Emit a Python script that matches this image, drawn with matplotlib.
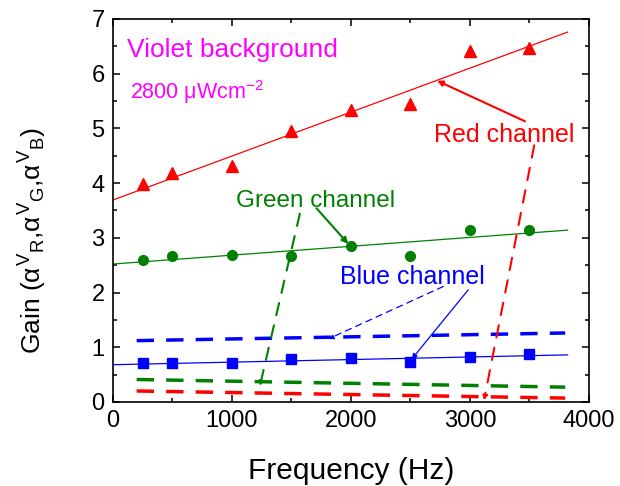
import matplotlib
matplotlib.use('Agg')
import matplotlib.pyplot as plt
from matplotlib.ticker import MultipleLocator

plt.rcParams['font.family'] = ['Liberation Sans', 'DejaVu Sans']
plt.rcParams['mathtext.fontset'] = 'custom'
plt.rcParams['mathtext.rm'] = 'Liberation Sans'
plt.rcParams['mathtext.it'] = 'Liberation Sans'
plt.rcParams['mathtext.bf'] = 'Liberation Sans:bold'

# measured gains
freq = [250, 500, 1000, 1500, 2000, 2500, 3000, 3500]
red = [3.98, 4.19, 4.32, 4.95, 5.34, 5.45, 6.42, 6.46]
green = [2.60, 2.66, 2.69, 2.67, 2.85, 2.67, 3.14, 3.14]
blue = [0.71, 0.71, 0.71, 0.79, 0.81, 0.73, 0.83, 0.87]

# linear fits (end points)
fit_x = [0, 3820]
red_fit = [3.69, 6.76]
green_fit = [2.52, 3.14]
blue_fit = [0.68, 0.86]

# dashed reference lines
ref_x = [200, 3800]
blue_ref = [1.12, 1.26]
green_ref = [0.41, 0.27]
red_ref = [0.20, 0.07]

fig = plt.figure(figsize=(6.2, 4.86), dpi=100)
ax = fig.add_axes([0.182, 0.173, 0.768, 0.788])

ax.plot(fit_x, red_fit, color='red', lw=0.9)
ax.plot(fit_x, green_fit, color='green', lw=0.9)
ax.plot(fit_x, blue_fit, color='blue', lw=0.9)

ax.plot(freq, red, '^', color='red', ms=8, mec='red')
ax.plot(freq, green, 'o', color='green', ms=7)
ax.plot(freq, blue, 's', color='blue', ms=6.5)

ax.plot(ref_x, blue_ref, color='blue', lw=2.5, ls=(0, (5, 3.5)))
ax.plot(ref_x, green_ref, color='green', lw=2.5, ls=(0, (5, 3.5)))
ax.plot(ref_x, red_ref, color='red', lw=2.5, ls=(0, (5, 3.5)))

# labels and arrows
ax.text(120, 6.43, 'Violet background', color='magenta', fontsize=19, va='center')
ax.text(145, 5.66, '2800 μWcm$^{-2}$', color='magenta', fontsize=15.5, va='center')

ax.text(3285, 4.87, 'Red channel', color='red', fontsize=18, ha='center', va='center')
ax.annotate('', xy=(2725, 5.87), xytext=(3462, 5.13),
            arrowprops=dict(arrowstyle='-|>', color='red', lw=1.5,
                            mutation_scale=8, shrinkA=0, shrinkB=0))
ax.annotate('', xy=(3118, 0.03), xytext=(3540, 4.69),
            arrowprops=dict(arrowstyle='-|>', color='red', lw=1.5, ls=(0, (6, 5)),
                            mutation_scale=6, shrinkA=0, shrinkB=0))

ax.text(1700, 3.68, 'Green channel', color='green', fontsize=17.5, ha='center', va='center')
ax.annotate('', xy=(1977, 2.89), xytext=(1711, 3.54),
            arrowprops=dict(arrowstyle='-|>', color='green', lw=1.5,
                            mutation_scale=9, shrinkA=0, shrinkB=0))
ax.annotate('', xy=(1235, 0.29), xytext=(1571, 3.44),
            arrowprops=dict(arrowstyle='-|>', color='green', lw=1.5, ls=(0, (6, 5)),
                            mutation_scale=6, shrinkA=0, shrinkB=0))

ax.text(2517, 2.28, 'Blue channel', color='blue', fontsize=18, ha='center', va='center')
ax.annotate('', xy=(2510, 0.78), xytext=(2986, 2.05),
            arrowprops=dict(arrowstyle='-|>', color='blue', lw=0.9,
                            mutation_scale=8, shrinkA=0, shrinkB=0))
ax.annotate('', xy=(1809, 1.15), xytext=(2776, 2.11),
            arrowprops=dict(arrowstyle='-|>', color='blue', lw=0.9, ls=(0, (5, 4)),
                            mutation_scale=8, shrinkA=0, shrinkB=0))

ax.set_xlim(0, 4000)
ax.set_ylim(0, 7)
ax.xaxis.set_major_locator(MultipleLocator(1000))
ax.xaxis.set_minor_locator(MultipleLocator(500))
ax.yaxis.set_major_locator(MultipleLocator(1))
ax.yaxis.set_minor_locator(MultipleLocator(0.5))
ax.tick_params(which='both', direction='in', top=True, right=True, width=1.1)
ax.tick_params(which='major', length=5, labelsize=17, pad=6)
ax.tick_params(which='minor', length=3)
for s in ax.spines.values():
    s.set_linewidth(1.2)

ax.set_xlabel('Frequency (Hz)', fontsize=21.5, labelpad=18)
ax.set_ylabel(r'Gain ($\alpha^{V}{}_{R}$,$\alpha^{V}{}_{G}$,$\alpha^{V}{}_{B}$)', fontsize=19)
ax.yaxis.set_label_coords(-0.135, 0.42)

fig.savefig('out.png', dpi=100)
